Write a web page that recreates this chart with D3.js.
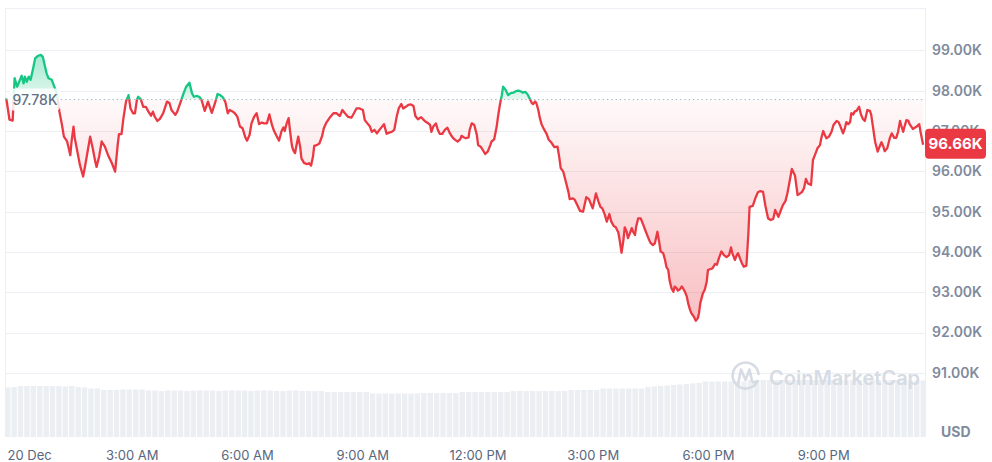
<!DOCTYPE html>
<html><head><meta charset="utf-8">
<script src="https://cdn.jsdelivr.net/npm/d3@7"></script>
<style>
body{margin:0;background:#fff;}
svg{display:block;font-family:Inter,"Noto Sans",sans-serif;}
</style>
</head><body>
<svg id="chart" width="992" height="462"></svg>
<script>
// minutes from 20 Dec 00:00
const minutes = [-16,-11,-6,-3,1,8,11,13,16,19,22,26,29,33,38,41,47,50,55,59,63,67,71,74,79,81,84,86,89,91,95,99,104,107,111,115,119,123,125,129,133,138,143,149,154,158,160,164,167,171,175,178,182,185,188,190,194,198,202,206,210,213,216,220,224,229,235,239,242,248,251,255,261,265,270,274,277,282,286,289,294,299,305,310,314,318,322,326,330,333,338,341,345,349,353,357,360,364,367,371,375,379,383,387,391,395,399,402,406,410,414,417,419,422,425,427,430,432,435,438,440,443,445,449,453,457,460,463,465,469,473,477,480,484,490,495,500,505,509,513,518,523,527,531,536,541,544,548,552,555,559,563,566,570,574,578,582,586,590,594,597,601,604,608,612,616,620,623,627,632,635,639,643,646,648,651,655,658,661,665,669,673,677,681,685,689,693,695,699,702,706,708,711,715,719,721,725,729,732,736,740,742,746,750,752,755,758,760,764,768,772,776,780,784,788,791,795,799,802,805,807,810,812,815,817,820,824,828,831,836,840,845,848,850,854,858,862,864,869,872,876,880,885,890,894,900,905,909,912,915,919,922,926,929,933,936,940,942,945,948,950,953,955,958,961,963,966,968,971,975,979,983,987,990,994,997,1001,1004,1006,1010,1013,1015,1018,1020,1023,1026,1028,1031,1033,1036,1039,1041,1044,1047,1049,1052,1054,1058,1061,1064,1066,1068,1072,1075,1078,1080,1083,1087,1091,1094,1097,1101,1105,1109,1113,1116,1118,1122,1125,1127,1130,1133,1136,1140,1143,1145,1150,1154,1158,1162,1166,1170,1174,1178,1182,1185,1190,1194,1197,1201,1204,1208,1211,1216,1220,1223,1227,1230,1233,1236,1241,1244,1247,1251,1255,1257,1260,1262,1265,1269,1273,1276,1281,1284,1287,1291,1294,1296,1299,1302,1304,1307,1309,1312,1316,1319,1322,1325,1329,1333,1335,1338,1341,1345,1348,1351,1354,1356,1360,1364,1367,1371,1374,1377,1380,1382,1385,1387,1390,1393,1395,1400,1406,1410,1412,1416];
const prices = [97810,97280,97260,98310,98100,98370,98180,98350,98220,98350,98270,98560,98800,98860,98890,98840,98430,98310,98270,98100,97940,97480,97150,96860,96740,96610,96400,96740,97110,96820,96490,96160,95870,96120,96490,96860,96570,96240,96110,96360,96740,96610,96400,96200,95990,96650,96920,96920,97320,97730,97890,97560,97440,97440,97770,97850,97790,97600,97600,97480,97380,97480,97350,97250,97300,97440,97730,97690,97520,97400,97480,97660,97940,98100,98200,97940,97850,97870,97840,97770,97500,97730,97450,97690,97920,97890,97840,97730,97440,97520,97480,97440,97350,97110,97070,96860,96760,96900,97190,97350,97440,97170,97210,97190,97190,97410,97150,97010,96880,96760,97000,97090,97000,97190,97320,97030,96650,96530,96450,96700,96860,96610,96320,96210,96180,96200,96140,96360,96630,96650,96690,96860,97070,97210,97350,97440,97440,97370,97520,97440,97350,97330,97440,97560,97560,97520,97270,97190,97110,96980,97030,96940,97010,97090,97170,96930,96960,96980,97030,97370,97560,97670,97560,97600,97650,97660,97620,97370,97290,97340,97290,97230,97190,97150,96980,97110,97190,97030,96930,96930,97030,97080,96940,96840,96780,96740,96790,96880,96840,96820,96840,97040,97190,97150,96900,96650,96610,96510,96430,96490,96650,96740,96790,97110,97350,97650,97890,98100,98020,97890,97940,97950,97990,98000,97980,97950,97970,97890,97790,97690,97670,97730,97690,97520,97350,97170,97040,96930,96790,96700,96600,96610,96320,96080,95990,95740,95490,95310,95330,95290,95160,95020,95000,95360,95310,95080,95450,95250,95120,95080,94920,94750,94940,94750,94640,94610,94480,94300,93980,94300,94610,94500,94340,94460,94590,94500,94420,94640,94830,94830,94670,94500,94340,94230,94170,94210,94500,94230,94010,93970,93800,93630,93550,93300,93100,93010,93140,93100,93040,93070,93140,93100,93010,92890,92730,92560,92480,92390,92290,92350,92480,92730,92970,93060,93260,93550,93570,93590,93700,93680,93840,94010,93920,93870,93920,94110,93970,93800,93920,93970,93840,93720,93630,93660,94420,95120,95140,95330,95480,95510,95490,95120,94830,94790,94820,95040,94870,95040,95160,95260,95450,95790,96060,95890,95410,95440,95490,95580,95810,95700,95660,96280,96400,96570,96650,96820,97000,96920,96820,96860,96980,97150,97250,97220,97110,96940,97080,97220,97170,97220,97440,97410,97480,97500,97600,97410,97300,97250,97520,97500,97400,97070,96740,96490,96610,96720,96610,96500,96570,96820,96940,96830,96830,96980,97250,97130,96980,97110,97270,97250,97170,97050,97110,97170,96980,96660];
// 10-minute volume bars (billion USD), starting at 19 Dec 23:42
const volumeStartMinute = -18;
const volumeStepMinutes = 10;
const volumes = [99,100,102,102,102,102,102,102,102,101,102,100,99,97,97,94,94,94,95,95,95,95,
93,93,92,93,93,93,92,93,93,93,93,92,93,93,93,93,92,93,93,93,92,92,93,93,92,92,92,92,
90,90,90,90,90,90,90,87,87,87,87,87,87,87,87,88,88,88,88,88,88,90,90,90,90,90,90,90,90,
92,92,92,92,92,92,92,92,92,94,94,94,94,94,97,97,97,97,97,97,97,
100,101,102,103,104,105,106,107,108,111,111,111,111,111,111,111,
114,114,114,114,114,114,114,114,114,114,114,114,114,114,114,114,114,114,114,114,114,114,114,114,114,113,113,113];
const priceTicks = [91000,92000,93000,94000,95000,96000,97000,98000,99000];
const timeTickMinutes = [0,180,360,540,720,900,1080,1260];
const timeTickLabels = ["20 Dec","3:00 AM","6:00 AM","9:00 AM","12:00 PM","3:00 PM","6:00 PM","9:00 PM"];
const referencePrice = 97780;
const lastPrice = 96660;
const currencyLabel = "USD";
const watermarkText = "CoinMarketCap";

const RED = "#ea3943", GREEN = "#16c784";
const base = new Date(2024, 11, 20, 0, 0);
const T = m => new Date(base.getTime() + m * 60000);
const data = minutes.map((m, i) => ({t: T(m), p: prices[i]}));

const svg = d3.select("#chart");
const L = 5, R = 925, TOP = 8, BOT = 437;
const x = d3.scaleTime().domain([T(-18), T(1419)]).range([L, R]);
const y = d3.scaleLinear().domain([91000, 99000]).range([372.8, 50.4]);
const yVol = d3.scaleLinear().domain([0, 120]).range([BOT, 377]);
const baseY = y(referencePrice);

const defs = svg.append("defs");
defs.append("clipPath").attr("id","plot").append("rect").attr("x",L).attr("y",TOP).attr("width",R-L).attr("height",BOT-TOP);
defs.append("clipPath").attr("id","above").append("rect").attr("x",L).attr("y",0).attr("width",R-L).attr("height",baseY);
defs.append("clipPath").attr("id","below").append("rect").attr("x",L).attr("y",baseY).attr("width",R-L).attr("height",462-baseY);
const gr = defs.append("linearGradient").attr("id","redGrad").attr("gradientUnits","userSpaceOnUse")
  .attr("x1",0).attr("x2",0).attr("y1",baseY).attr("y2",y(d3.min(prices)));
gr.append("stop").attr("offset",0).attr("stop-color",RED).attr("stop-opacity",0.03);
gr.append("stop").attr("offset",1).attr("stop-color",RED).attr("stop-opacity",0.32);
const gg = defs.append("linearGradient").attr("id","greenGrad").attr("gradientUnits","userSpaceOnUse")
  .attr("x1",0).attr("x2",0).attr("y1",baseY).attr("y2",y(d3.max(prices)));
gg.append("stop").attr("offset",0).attr("stop-color",GREEN).attr("stop-opacity",0.12);
gg.append("stop").attr("offset",1).attr("stop-color",GREEN).attr("stop-opacity",0.38);

// frame + grid
const grid = svg.append("g").attr("stroke","#eceff3").attr("stroke-width",1).attr("shape-rendering","crispEdges");
grid.selectAll("line.h").data(priceTicks).join("line").attr("class","h")
  .attr("x1",L).attr("x2",R).attr("y1",d=>Math.round(y(d))+0.5).attr("y2",d=>Math.round(y(d))+0.5);
grid.append("line").attr("x1",L).attr("x2",R).attr("y1",TOP+0.5).attr("y2",TOP+0.5);
grid.append("line").attr("x1",L+0.5).attr("x2",L+0.5).attr("y1",TOP).attr("y2",BOT);
grid.append("line").attr("x1",R+0.5).attr("x2",R+0.5).attr("y1",TOP).attr("y2",BOT);

// volume bars
const vol = volumes.map((v,i)=>({t0:T(volumeStartMinute+i*volumeStepMinutes), t1:T(volumeStartMinute+(i+1)*volumeStepMinutes), v}));
svg.append("g").attr("clip-path","url(#plot)").selectAll("rect").data(vol).join("rect")
  .attr("x",d=>x(d.t0)).attr("width",d=>Math.max(0.5,x(d.t1)-x(d.t0)-1))
  .attr("y",d=>yVol(d.v)).attr("height",d=>BOT-yVol(d.v)).attr("fill","#ebeef2");

// watermark
const wm = svg.append("g").attr("fill","none").attr("stroke","#d6dbe4").attr("stroke-width",2.6).attr("stroke-linecap","round").attr("stroke-linejoin","round");
wm.append("path").attr("d","M757.5,381 A13,13 0 1 1 758.6,374");
wm.append("path").attr("d","M738,384 L741,369.5 L745.5,380 L749.5,369.5 L752,381 Q753.5,384 757.5,381");
svg.append("text").attr("x",769).attr("y",384.5).attr("fill","#d6dbe4").attr("font-size",20).attr("font-weight",600).text(watermarkText);

// areas
const area = d3.area().x(d=>x(d.t)).y0(baseY).y1(d=>y(d.p));
svg.append("path").datum(data).attr("d",area).attr("fill","url(#greenGrad)").attr("clip-path","url(#above)");
svg.append("path").datum(data).attr("d",area).attr("fill","url(#redGrad)").attr("clip-path","url(#below)");

// reference dotted line
svg.append("line").attr("x1",L).attr("x2",R).attr("y1",baseY).attr("y2",baseY)
  .attr("stroke","#a7b1c2").attr("stroke-width",1).attr("stroke-dasharray","1.3,3");

// price line
const line = d3.line().x(d=>x(d.t)).y(d=>y(d.p));
svg.append("path").datum(data).attr("d",line).attr("fill","none").attr("stroke",GREEN).attr("stroke-width",2.3).attr("stroke-linejoin","round").attr("clip-path","url(#above)");
svg.append("path").datum(data).attr("d",line).attr("fill","none").attr("stroke",RED).attr("stroke-width",2.3).attr("stroke-linejoin","round").attr("clip-path","url(#below)");

// reference label
svg.append("rect").attr("x",9).attr("y",baseY-11).attr("width",51).attr("height",22).attr("rx",4).attr("fill","#fff").attr("fill-opacity",0.85);
svg.append("text").attr("x",12.5).attr("y",baseY).attr("dy","0.36em").attr("fill","#646f84").attr("font-size",14).attr("font-weight",500).text((referencePrice/1000).toFixed(2)+"K");

// y axis
const yAxis = d3.axisRight(y).tickValues(priceTicks).tickSize(0).tickPadding(0).tickFormat(d=>(d/1000).toFixed(2)+"K");
const ya = svg.append("g").attr("transform","translate(932,0)").call(yAxis);
ya.select(".domain").remove();
ya.selectAll("text").attr("fill","#808a9d").attr("font-size",14).attr("font-weight",600).attr("font-family","Inter,sans-serif");
svg.append("text").attr("x",941).attr("y",432).attr("dy","0.36em").attr("fill","#808a9d").attr("font-size",14).attr("font-weight",700).text(currencyLabel);

// x axis
const xAxis = d3.axisBottom(x).tickValues(timeTickMinutes.map(T)).tickSize(0).tickPadding(0).tickFormat((d,i)=>timeTickLabels[i]);
const xa = svg.append("g").attr("transform","translate(0,451)").call(xAxis);
xa.select(".domain").remove();
xa.selectAll("text").attr("fill","#58667e").attr("font-size",13).attr("font-family","Inter,sans-serif").attr("dy","0.71em");
xa.selectAll(".tick").filter((d,i)=>i===0).select("text").attr("text-anchor","start").attr("x",7 - x(T(0)));

// last price tag (covers part of the 97.00K tick label, as in the reference)
const ly = y(lastPrice);
svg.append("rect").attr("x",925).attr("y",ly-16).attr("width",61).attr("height",30).attr("rx",4).attr("fill",RED);
svg.append("text").attr("x",955.5).attr("y",ly-1).attr("dy","0.36em").attr("text-anchor","middle").attr("fill","#fff").attr("font-size",15).attr("font-weight",700).text((lastPrice/1000).toFixed(2)+"K");
</script>
</body></html>
